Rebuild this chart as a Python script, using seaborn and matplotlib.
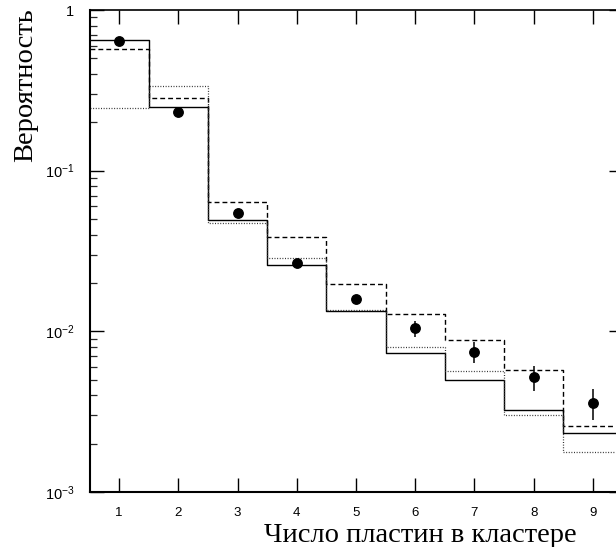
import numpy as np
import seaborn as sns
import matplotlib
matplotlib.use("Agg")
import matplotlib.pyplot as plt
from matplotlib.ticker import FixedLocator, LogLocator, NullFormatter, FixedFormatter

# cluster size (number of plates)
clusters = [1, 2, 3, 4, 5, 6, 7, 8, 9]

# three model histograms
model_solid = [0.650, 0.250, 0.0495, 0.0259, 0.0133, 0.0073, 0.00498, 0.00322, 0.00232]
model_dashed = [0.572, 0.2845, 0.0641, 0.0385, 0.0197, 0.01276, 0.00883, 0.00574, 0.00259]
model_dotted = [0.2465, 0.336, 0.0475, 0.0286, 0.0136, 0.00802, 0.00569, 0.00303, 0.00178]

# measured probabilities with errors
data_prob = [0.644, 0.231, 0.0542, 0.0265, 0.0159, 0.01044, 0.00747, 0.00518, 0.00360]
data_err = [0.005, 0.003, 0.0012, 0.0008, 0.0008, 0.0012, 0.0011, 0.0009, 0.0008]

y_ticks = [1e-3, 1e-2, 1e-1, 1]
y_ticklabels = [r"$10^{-3}$", r"$10^{-2}$", r"$10^{-1}$", "1"]

sns.set_theme(style="ticks")
plt.rcParams["font.family"] = ["Liberation Sans", "DejaVu Sans"]
plt.rcParams["mathtext.fontset"] = "custom"
plt.rcParams["mathtext.rm"] = "Liberation Sans"
plt.rcParams["mathtext.it"] = "Liberation Sans:italic"
plt.rcParams["mathtext.default"] = "regular"

fig = plt.figure(figsize=(6.16, 5.47), dpi=100)
ax = fig.add_axes([89.5 / 616, 55 / 547, 533 / 616, 482 / 547])

edges = np.append(np.array(clusters) - 0.5, clusters[-1] + 0.5)


def steps(vals):
    return np.append(vals, vals[-1])


sns.lineplot(x=edges, y=steps(model_solid), drawstyle="steps-post", color="black",
             lw=1.0, ax=ax, sort=False, estimator=None)
sns.lineplot(x=edges, y=steps(model_dashed), drawstyle="steps-post", color="black",
             lw=1.0, ax=ax, sort=False, estimator=None)
ax.lines[-1].set_dashes((3.5, 2.2))
sns.lineplot(x=edges, y=steps(model_dotted), drawstyle="steps-post", color="0.2",
             lw=0.9, ax=ax, sort=False, estimator=None)
ax.lines[-1].set_dashes((0.8, 1.3))

ax.errorbar(clusters, data_prob, yerr=data_err, fmt="o", color="black",
            ms=6.8, elinewidth=1.1, capsize=0, zorder=5)

ax.set_yscale("log")
ax.set_xlim(0.5, 9.5)
ax.set_ylim(1e-3, 1)

ax.xaxis.set_major_locator(FixedLocator(clusters))
ax.yaxis.set_major_locator(FixedLocator(y_ticks))
ax.yaxis.set_major_formatter(FixedFormatter(y_ticklabels))
ax.yaxis.set_minor_locator(LogLocator(base=10, subs=np.arange(2, 10)))
ax.yaxis.set_minor_formatter(NullFormatter())

ax.tick_params(axis="x", which="major", direction="in", length=10, width=1.0,
               top=True, bottom=True, labelsize=9.5, pad=11, colors="black")
ax.tick_params(axis="y", which="major", direction="in", length=10, width=1.0,
               left=True, right=True, labelsize=10.5, pad=11, colors="black")
ax.tick_params(axis="y", which="minor", direction="in", length=5, width=0.9,
               left=True, right=False)

for side in ["left", "bottom", "top", "right"]:
    ax.spines[side].set_visible(True)
    ax.spines[side].set_color("black")
ax.spines["left"].set_linewidth(1.5)
ax.spines["bottom"].set_linewidth(1.5)
ax.spines["top"].set_linewidth(1.2)
ax.spines["right"].set_linewidth(1.2)

ax.set_xlabel("Число пластин в кластере", family=["Liberation Serif", "DejaVu Serif"],
              fontsize=20.5, color="black")
ax.xaxis.set_label_coords(0.621, -0.090)
ax.xaxis.label.set_va("center")
ax.set_ylabel("Вероятность", family=["Liberation Serif", "DejaVu Serif"],
              fontsize=20.5, color="black", loc="top")
ax.yaxis.set_label_coords(-0.12, 1.004)
ax.yaxis.label.set_va("center")

fig.savefig("out.png", dpi=100)
